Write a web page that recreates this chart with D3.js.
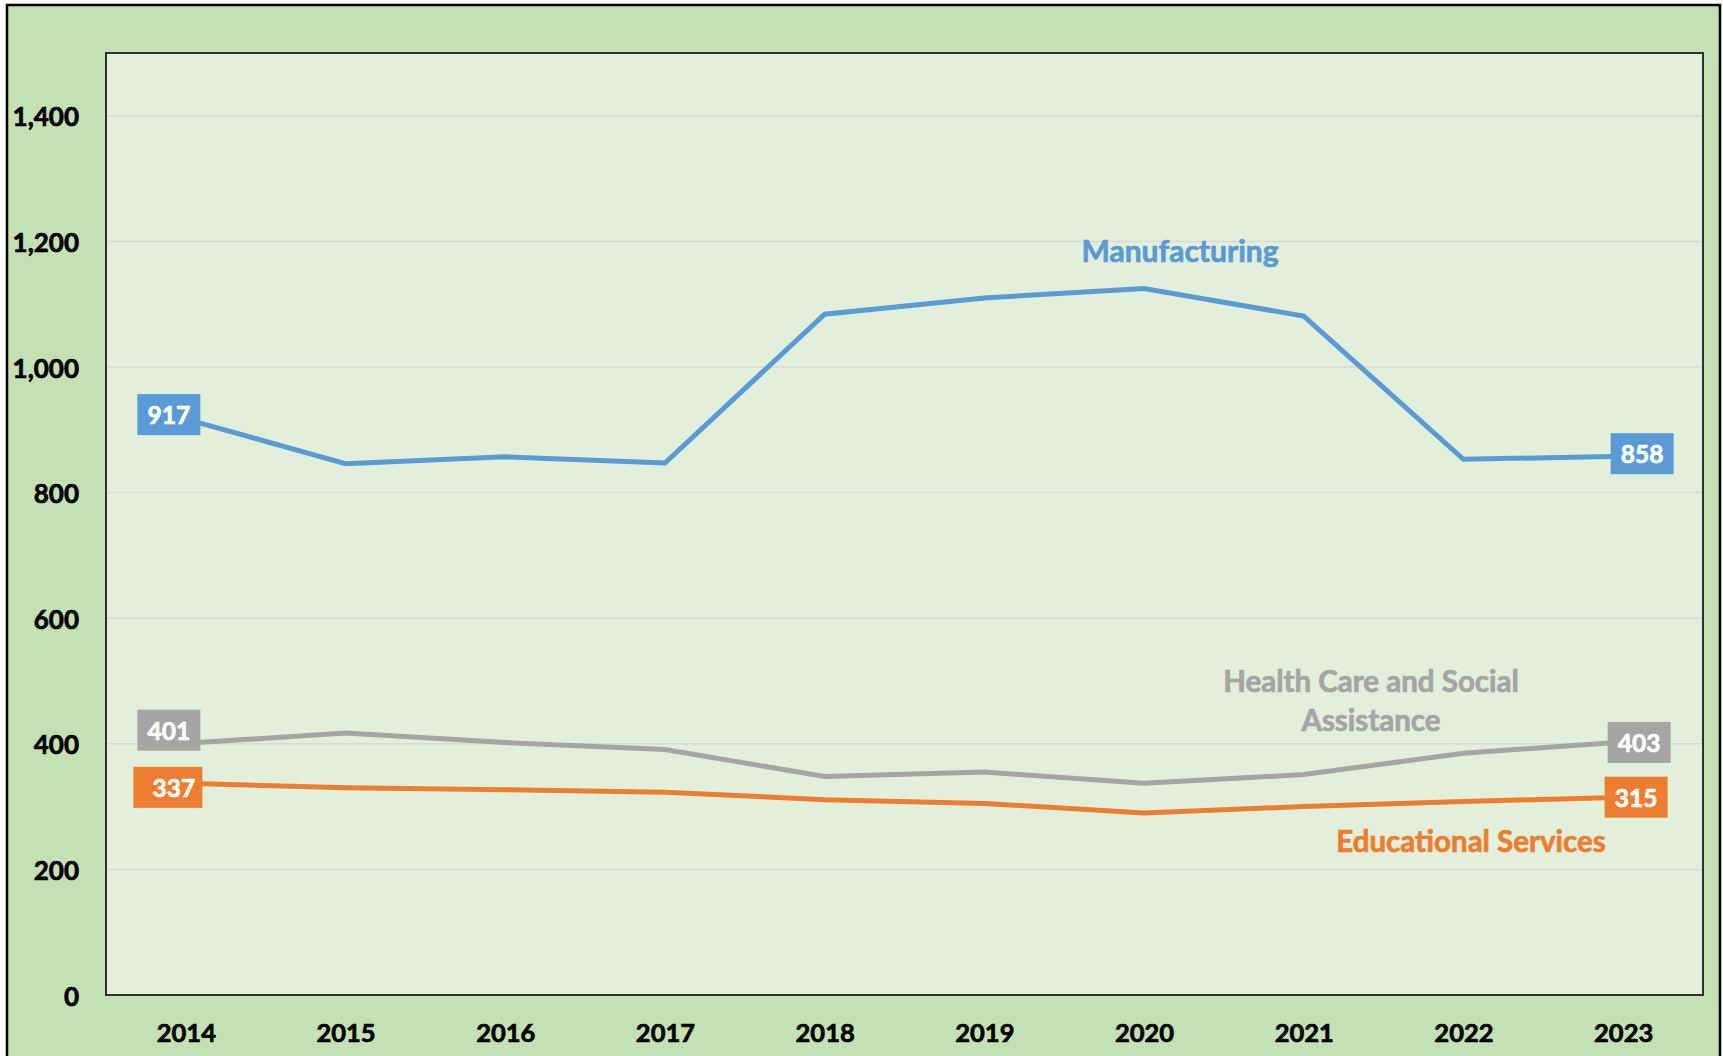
<!DOCTYPE html>
<html>
<head>
<meta charset="utf-8">
<script src="https://cdn.jsdelivr.net/npm/d3@7"></script>
<style>
  html, body { margin: 0; padding: 0; background: #ffffff; }
  svg { display: block; }
  text { font-family: Lato, "Open Sans", sans-serif; font-weight: bold; }
</style>
</head>
<body>
<script>
// ---- data ----
const years = ["2014","2015","2016","2017","2018","2019","2020","2021","2022","2023"];
const manufacturing = [917, 846, 857, 847, 1084, 1110, 1125, 1081, 853, 858];
const healthCare    = [401, 417, 402, 391, 348, 355, 337, 351, 385, 403];
const education     = [337, 330, 327, 323, 311, 305, 290, 300, 308, 315];
const yTicks = [0, 200, 400, 600, 800, 1000, 1200, 1400];
const seriesNames = ["Manufacturing", "Health Care and Social Assistance", "Educational Services"];
const seriesColors = ["#5B9BD5", "#A5A5A5", "#ED7D31"];

const W = 1723, H = 1056;
const plot = { left: 106, right: 1703, top: 53, bottom: 995 };

const svg = d3.select("body").append("svg").attr("width", W).attr("height", H);

// outer background + border
svg.append("rect").attr("x", 0).attr("y", 0).attr("width", W).attr("height", H).attr("fill", "#ffffff");
svg.append("rect").attr("x", 7).attr("y", 5).attr("width", 1713).attr("height", 1100)
  .attr("fill", "#C5E0B4").attr("stroke", "#000").attr("stroke-width", 2.5);

const x = d3.scalePoint().domain(years).range([plot.left, plot.right]).padding(0.5);
const y = d3.scaleLinear().domain([0, 1500]).range([plot.bottom, plot.top]);

// plot area
svg.append("rect").attr("x", plot.left).attr("y", plot.top)
  .attr("width", plot.right - plot.left).attr("height", plot.bottom - plot.top)
  .attr("fill", "#E2EFDA");

// gridlines
svg.append("g").selectAll("line").data(yTicks.filter(d => d > 0)).join("line")
  .attr("x1", plot.left).attr("x2", plot.right)
  .attr("y1", d => y(d)).attr("y2", d => y(d))
  .attr("stroke", "#D9D9D9").attr("stroke-width", 1.5);

// plot border
svg.append("rect").attr("x", plot.left).attr("y", plot.top)
  .attr("width", plot.right - plot.left).attr("height", plot.bottom - plot.top)
  .attr("fill", "none").attr("stroke", "#2b332b").attr("stroke-width", 2);

function heavy(sel, color) {
  sel.attr("stroke", color).attr("stroke-width", 0.7).attr("paint-order", "stroke");
}

// y axis labels
const yAxis = d3.axisLeft(y).tickValues(yTicks).tickSize(0).tickPadding(0).tickFormat(d3.format(","));
const gy = svg.append("g").attr("transform", `translate(79,0)`).call(yAxis);
gy.select(".domain").remove();
gy.selectAll("text").attr("font-size", 26).attr("fill", "#000")
  .attr("font-family", "Lato, sans-serif").attr("font-weight", "bold")
  .attr("dy", null).attr("dominant-baseline", "central").call(heavy, "#000");

// x axis labels
const xAxis = d3.axisBottom(x).tickSize(0).tickPadding(0);
const gx = svg.append("g").attr("transform", `translate(0,1042)`).call(xAxis);
gx.select(".domain").remove();
gx.selectAll("text").attr("font-size", 25.5).attr("fill", "#000")
  .attr("font-family", "Lato, sans-serif").attr("font-weight", "bold")
  .attr("dy", 0).attr("y", 0).call(heavy, "#000");

// lines
const allSeries = [manufacturing, healthCare, education];
const line = d3.line().x((d, i) => x(years[i])).y(d => y(d));
allSeries.forEach((s, k) => {
  svg.append("path").datum(s).attr("d", line)
    .attr("fill", "none").attr("stroke", seriesColors[k]).attr("stroke-width", 5)
    .attr("stroke-linejoin", "miter");
});

// end-point value labels: [box dx, box dy, box width, text dx]
const labelPlacement = [
  { first: [-17, -4.5, 63, 0], last: [19, -2.5, 63, 0] },
  { first: [-17, -13, 63, 0], last: [16, 0.5, 63, 0] },
  { first: [-18, 4, 69, 6], last: [13, 0, 63, 0] }
];
allSeries.forEach((s, k) => {
  const pl = labelPlacement[k];
  [[0, pl.first], [s.length - 1, pl.last]].forEach(([i, off]) => {
    const cx = x(years[i]) + off[0], cy = y(s[i]) + off[1], w = off[2];
    const g = svg.append("g");
    g.append("rect").attr("x", cx - w / 2).attr("y", cy - 20.5)
      .attr("width", w).attr("height", 41).attr("fill", seriesColors[k]);
    g.append("text").attr("x", cx + off[3]).attr("y", cy).attr("text-anchor", "middle")
      .attr("dominant-baseline", "central").attr("font-size", 24.5).attr("fill", "#fff")
      .call(heavy, "#fff")
      .text(d3.format(",")(s[i]));
  });
});

// series name labels
svg.append("text").attr("x", 1180).attr("y", 262).attr("text-anchor", "middle")
  .attr("font-size", 30).attr("fill", seriesColors[0]).call(heavy, seriesColors[0]).text(seriesNames[0]);
const hc = svg.append("text").attr("x", 1371).attr("text-anchor", "middle")
  .attr("font-size", 29.5).attr("fill", seriesColors[1]).call(heavy, seriesColors[1]);
hc.append("tspan").attr("x", 1371).attr("y", 692).text("Health Care and Social");
hc.append("tspan").attr("x", 1371).attr("y", 731).text("Assistance");
svg.append("text").attr("x", 1471).attr("y", 852).attr("text-anchor", "middle")
  .attr("font-size", 29.5).attr("fill", seriesColors[2]).call(heavy, seriesColors[2]).text(seriesNames[2]);
</script>
</body>
</html>
